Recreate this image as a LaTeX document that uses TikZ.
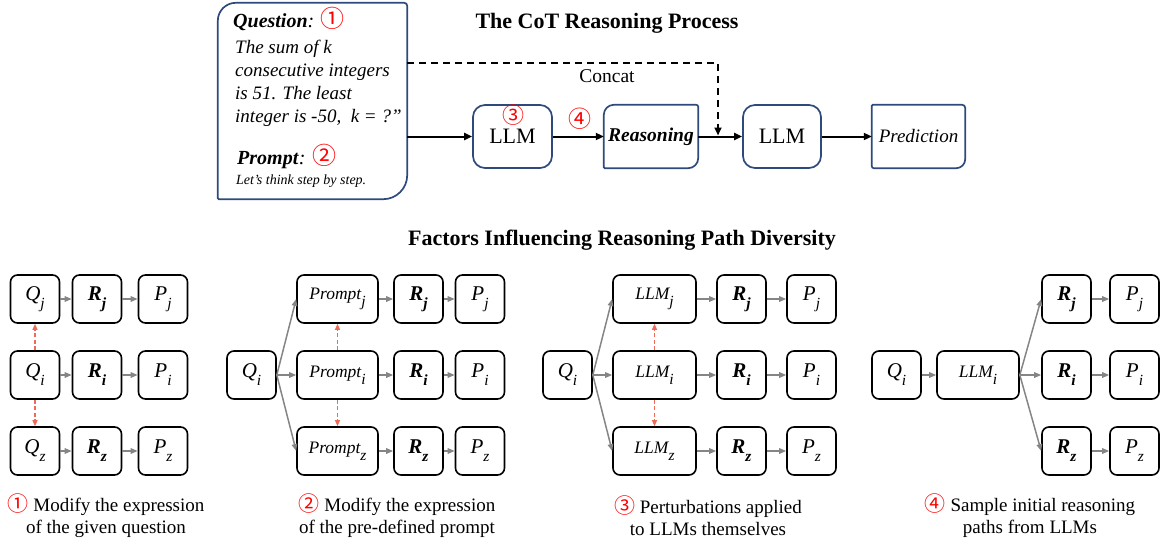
\documentclass[tikz,border=0pt]{standalone}
\usepackage{fontspec}
\setmainfont{Liberation Serif}
\newfontfamily\cjkf{Noto Sans CJK SC}
\usetikzlibrary{arrows.meta,calc}
\definecolor{navy}{HTML}{2E4A7D}
\definecolor{salmon}{HTML}{EE6B5A}
\definecolor{arrgray}{HTML}{858585}
\newcommand{\cnum}[2][21]{{\fontsize{#1}{#1}\cjkf\color{red}#2}}
\newcommand{\fs}[1]{\fontsize{#1}{#1}\selectfont}
\newcommand{\sbi}[1]{\raisebox{-0.38em}{\fs{15.5}\itshape #1}}
\newcommand{\sbb}[1]{\raisebox{-0.38em}{\fs{15.5}\bfseries\itshape #1}}
\newcommand{\oddoutline}[5]{%
  \draw[navy, line width=1.7pt] (#1.west) [rounded corners=#2] -- (#1.north west) -- (#1.north)
    [rounded corners=#3] -- (#1.north east) -- (#1.east)
    [rounded corners=#4] -- (#1.south east) -- (#1.south)
    [rounded corners=#5] -- (#1.south west) -- cycle;}
\begin{document}
\begin{tikzpicture}[x=1pt,y=-1pt,
  topbox/.style={draw=navy, line width=1.7pt, rounded corners=12pt, minimum height=63pt, inner sep=0pt},
  oddbox/.style={draw=none, minimum height=63pt, inner sep=0pt},
  blk/.style={-{Triangle[length=8pt,width=7pt]}, line width=2pt, black},
  dsh/.style={-{Triangle[length=8pt,width=7pt]}, line width=2pt, black, dash pattern=on 7pt off 5pt},
  bx/.style={draw, line width=1.6pt, rounded corners=7pt, minimum height=48pt, minimum width=49pt, inner sep=0pt, font=\fs{21}},
  wbx/.style={bx, font=\fs{17.5}\itshape},
  ga/.style={-{Triangle[length=7pt,width=5.5pt]}, arrgray, line width=1.5pt},
  rd/.style={-{Triangle[length=6pt,width=5pt]}, salmon, line width=1.2pt, dash pattern=on 4pt off 2.5pt},
  ttl/.style={font=\fs{22}\bfseries, inner sep=0pt},
  captxt/.style={align=center, font=\fontsize{19}{22}\selectfont, inner sep=0pt},
  ln/.style={anchor=base west, inner sep=0pt}
]
\useasboundingbox (0,0) rectangle (1163,544);

% ---------- top ----------
\node[ttl] (t1) at (607,23) {The CoT Reasoning Process};

\node[oddbox, minimum width=189pt, minimum height=196pt] (qbox) at (312.5,101) {};
\oddoutline{qbox}{18pt}{3pt}{24pt}{1pt}
\node[ln, font=\fs{20}] (qt) at (233,27) {\textbf{\textit{Question}}\textit{:} \cnum[24]{①}};
\node[ln, font=\fs{19}\itshape] (q1) at (235,53) {The sum of k};
\node[ln, font=\fs{19}\itshape] (q2) at (235,76) {consecutive integers};
\node[ln, font=\fs{19}\itshape] (q3) at (235,99.5) {is 51. The least};
\node[ln, font=\fs{19}\itshape] (q4) at (235,122.5) {integer is -50,\ \ k = ?\symbol{34}};
\node[ln, font=\fs{20}] (pt) at (237,164) {\textbf{\textit{Prompt}}\textit{:} \cnum[24]{②}};
\node[ln, font=\fs{14}\itshape] (p1) at (236,184) {Let’s think step by step.};

\node[topbox, minimum width=79pt, font=\fs{22}] (llm1) at (512.5,136.5) {LLM};
\node[inner sep=0pt] (c3) at (513,115.5) {\cnum[22]{③}};
\node[oddbox, minimum width=94pt, font=\fs{19.5}\bfseries\itshape] (reas) at (651,136.5) {Reasoning};
\oddoutline{reas}{10pt}{2pt}{10pt}{1pt}
\node[inner sep=0pt] (c4) at (580,119) {\cnum[23]{④}};
\node[topbox, minimum width=78pt, font=\fs{22}] (llm2) at (782,136.5) {LLM};
\node[oddbox, minimum width=93pt, font=\fs{19}\itshape] (pred) at (918.5,136.5) {Prediction};
\oddoutline{pred}{1pt}{3pt}{9pt}{2pt}

\draw[blk] (qbox.east |- llm1.west) -- (llm1.west);
\draw[blk] (llm1.east) -- (reas.west);
\draw[blk] (reas.east) -- (llm2.west);
\draw[blk] (llm2.east) -- (pred.west);
\coordinate (dtop) at (718,63);
\coordinate (dend) at (718,135.5);
\draw[dsh] (qbox.east |- dtop) -- (dtop) -- (dend);
\node[font=\fs{19.5}, inner sep=0pt] (concat) at (607,76) {Concat};

% ---------- bottom ----------
\node[ttl] (t2) at (622,240) {Factors Influencing Reasoning Path Diversity};

% panel 1
\node[bx] (aqj) at (35,299) {\textit{Q}\sbi{j}};
\node[bx] (aqi) at (35,375) {\textit{Q}\sbi{i}};
\node[bx] (aqz) at (35,451) {\textit{Q}\sbi{z}};
\node[bx] (arj) at (97,299) {\textbf{\textit{R}}\sbb{j}};
\node[bx] (ari) at (97,375) {\textbf{\textit{R}}\sbb{i}};
\node[bx] (arz) at (97,451) {\textbf{\textit{R}}\sbb{z}};
\node[bx] (apj) at (163,299) {\textit{P}\sbi{j}};
\node[bx] (api) at (163,375) {\textit{P}\sbi{i}};
\node[bx] (apz) at (163,451) {\textit{P}\sbi{z}};
\foreach \r in {j,i,z}{
  \draw[ga] (aq\r.east) -- (ar\r.west);
  \draw[ga] (ar\r.east) -- (ap\r.west);
}
\draw[rd] (aqi.north) -- (aqj.south);
\draw[rd] (aqi.south) -- (aqz.north);
\node[captxt] (capa) at (106,516) {\cnum{①} Modify the expression\\of the given question};

% panel 2
\node[bx] (bq) at (251.5,375) {\textit{Q}\sbi{i}};
\node[wbx, minimum width=81pt] (bwj) at (337.5,299) {Prompt\sbi{j}};
\node[wbx, minimum width=81pt] (bwi) at (337.5,375) {Prompt\sbi{i}};
\node[wbx, minimum width=81pt] (bwz) at (337.5,451) {Prompt\sbi{z}};
\node[bx] (brj) at (418.5,299) {\textbf{\textit{R}}\sbb{j}};
\node[bx] (bri) at (418.5,375) {\textbf{\textit{R}}\sbb{i}};
\node[bx] (brz) at (418.5,451) {\textbf{\textit{R}}\sbb{z}};
\node[bx] (bpj) at (480,299) {\textit{P}\sbi{j}};
\node[bx] (bpi) at (480,375) {\textit{P}\sbi{i}};
\node[bx] (bpz) at (480,451) {\textit{P}\sbi{z}};
\foreach \r in {j,i,z}{
  \draw[ga] (bq.east) -- (bw\r.west);
  \draw[ga] (bw\r.east) -- (br\r.west);
  \draw[ga] (br\r.east) -- (bp\r.west);
}
\draw[rd] (bwi.north) -- (bwj.south);
\draw[rd] (bwi.south) -- (bwz.north);
\node[captxt] (capb) at (397,516) {\cnum{②} Modify the expression\\of the pre-defined prompt};

% panel 3
\node[bx] (cq) at (567.5,375) {\textit{Q}\sbi{i}};
\node[wbx, minimum width=83pt] (cwj) at (654.5,299) {LLM\sbi{j}};
\node[wbx, minimum width=83pt] (cwi) at (654.5,375) {LLM\sbi{i}};
\node[wbx, minimum width=83pt] (cwz) at (654.5,451) {LLM\sbi{z}};
\node[bx] (crj) at (741.5,299) {\textbf{\textit{R}}\sbb{j}};
\node[bx] (cri) at (741.5,375) {\textbf{\textit{R}}\sbb{i}};
\node[bx] (crz) at (741.5,451) {\textbf{\textit{R}}\sbb{z}};
\node[bx] (cpj) at (811.5,299) {\textit{P}\sbi{j}};
\node[bx] (cpi) at (811.5,375) {\textit{P}\sbi{i}};
\node[bx] (cpz) at (811.5,451) {\textit{P}\sbi{z}};
\foreach \r in {j,i,z}{
  \draw[ga] (cq.east) -- (cw\r.west);
  \draw[ga] (cw\r.east) -- (cr\r.west);
  \draw[ga] (cr\r.east) -- (cp\r.west);
}
\draw[rd] (cwi.north) -- (cwj.south);
\draw[rd] (cwi.south) -- (cwz.north);
\node[captxt] (capc) at (708,516) {\cnum{③} Perturbations applied\\to LLMs themselves};

% panel 4
\node[bx] (dq) at (896.5,375) {\textit{Q}\sbi{i}};
\node[wbx, minimum width=82pt] (dw) at (978,375) {LLM\sbi{i}};
\node[bx] (drj) at (1066.5,299) {\textbf{\textit{R}}\sbb{j}};
\node[bx] (dri) at (1066.5,375) {\textbf{\textit{R}}\sbb{i}};
\node[bx] (drz) at (1066.5,451) {\textbf{\textit{R}}\sbb{z}};
\node[bx] (dpj) at (1134.5,299) {\textit{P}\sbi{j}};
\node[bx] (dpi) at (1134.5,375) {\textit{P}\sbi{i}};
\node[bx] (dpz) at (1134.5,451) {\textit{P}\sbi{z}};
\draw[ga] (dq.east) -- (dw.west);
\foreach \r in {j,i,z}{
  \draw[ga] (dw.east) -- (dr\r.west);
  \draw[ga] (dr\r.east) -- (dp\r.west);
}
\node[captxt] (capd) at (1030,516) {\cnum{④} Sample initial reasoning\\paths from LLMs};
\end{tikzpicture}
\end{document}
